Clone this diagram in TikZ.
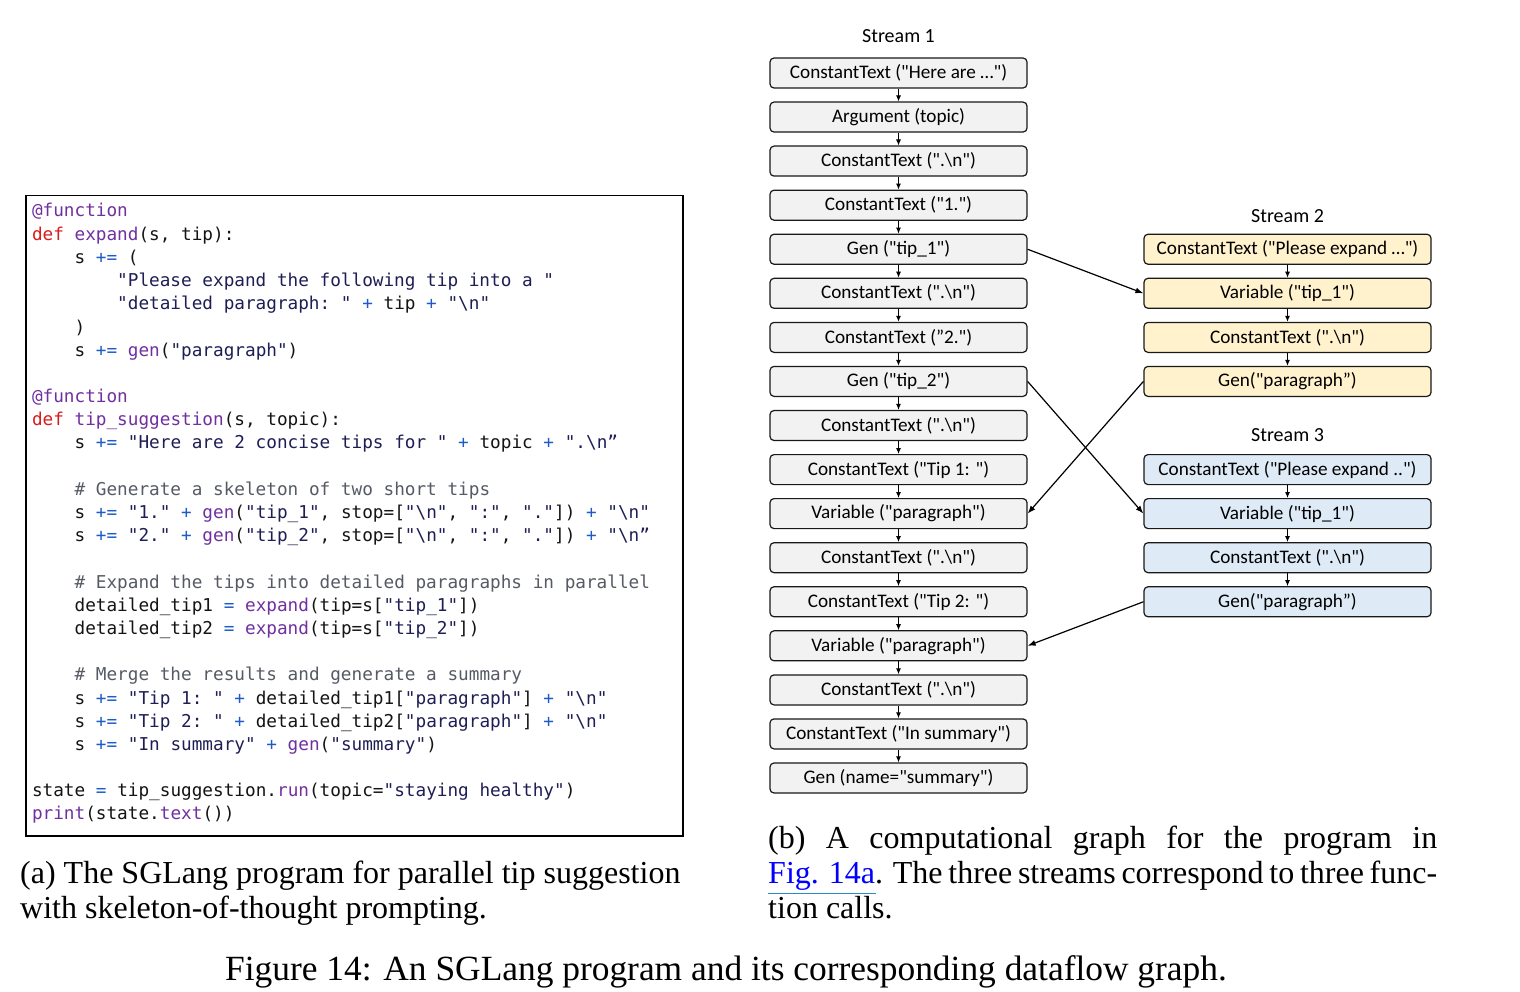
\documentclass[tikz,border=0pt]{standalone}
\usepackage{fontspec}
\usetikzlibrary{arrows.meta}
\newfontfamily\codefnt{DejaVu Sans Mono}
\newfontfamily\nodefnt{Carlito}
\newfontfamily\capfnt{Liberation Serif}
\definecolor{fnpurple}{RGB}{112,48,160}
\definecolor{kwred}{RGB}{218,28,28}
\definecolor{opblue}{RGB}{30,90,200}
\definecolor{strnavy}{RGB}{30,30,85}
\definecolor{cmgray}{RGB}{85,90,100}
\definecolor{fillA}{RGB}{242,242,242}
\definecolor{fillB}{RGB}{255,242,204}
\definecolor{fillC}{RGB}{222,235,247}
\definecolor{linkblue}{RGB}{0,0,255}
\definecolor{linkline}{RGB}{40,140,200}
\newcommand\cFn[1]{\textcolor{fnpurple}{#1}}
\newcommand\cKw[1]{\textcolor{kwred}{#1}}
\newcommand\cOp[1]{\textcolor{opblue}{#1}}
\newcommand\cSt[1]{\textcolor{strnavy}{#1}}
\newcommand\cCm[1]{\textcolor{cmgray}{#1}}
\newcommand\bs{\textbackslash{}}
\tikzset{
  codeline/.style={anchor=base west, inner sep=0pt, outer sep=0pt,
    font=\codefnt\fontsize{17.7}{20}\selectfont\frenchspacing, text=black!92},
  gnode/.style={draw=black!90, line width=1.2pt, rounded corners=4pt,
    minimum height=30pt, inner sep=0pt, font=\nodefnt\fontsize{19.2}{21}\selectfont},
  sone/.style={gnode, fill=fillA, minimum width=257pt},
  stwo/.style={gnode, fill=fillB, minimum width=287pt},
  sthree/.style={gnode, fill=fillC, minimum width=287pt},
  slabel/.style={font=\nodefnt\fontsize{20}{22}\selectfont, inner sep=0pt},
  flow/.style={-{Latex[length=6pt,width=5pt]}, line width=1pt, black},
  cross/.style={-{Latex[length=8pt,width=6pt]}, line width=1.2pt, black},
  captxt/.style={font=\capfnt\fontsize{32}{35}\selectfont, inner sep=0pt, anchor=base west},
}
\begin{document}
\begin{tikzpicture}[x=1pt,y=-1pt]
\fill[white] (0,0) rectangle (1520,992);
\useasboundingbox (0,0) rectangle (1520,992);

% ---------- code box ----------
\node[draw=black, line width=1.5pt, minimum width=657pt, minimum height=640pt,
  anchor=north west, inner sep=0pt] (codebox) at (25,195) {};

\node[codeline] (c1)  at (32,217)    {\cFn{@function}};
\node[codeline] (c2)  at (32,240.2)  {\cKw{def} \cFn{expand}(s, tip):};
\node[codeline] (c3)  at (74.6,263.4) {s \cOp{+=} (};
\node[codeline] (c4)  at (117.2,286.6) {\cSt{"Please expand the following tip into a "}};
\node[codeline] (c5)  at (117.2,309.8) {\cSt{"detailed paragraph: "} \cOp{+} tip \cOp{+} \cSt{"\bs n"}};
\node[codeline] (c6)  at (74.6,333.0) {)};
\node[codeline] (c7)  at (74.6,356.1) {s \cOp{+=} \cFn{gen}(\cSt{"paragraph"})};
\node[codeline] (c9)  at (32,402.5)  {\cFn{@function}};
\node[codeline] (c10) at (32,425.7)  {\cKw{def} \cFn{tip\_suggestion}(s, topic):};
\node[codeline] (c11) at (74.6,448.9) {s \cOp{+=} \cSt{"Here are 2 concise tips for "} \cOp{+} topic \cOp{+} \cSt{".\bs n”}};
\node[codeline] (c13) at (74.6,495.3) {\cCm{\# Generate a skeleton of two short tips}};
\node[codeline] (c14) at (74.6,518.5) {s \cOp{+=} \cSt{"1."} \cOp{+} \cFn{gen}(\cSt{"tip\_1"}, stop=[\cSt{"\bs n"}, \cSt{":"}, \cSt{"."}]) \cOp{+} \cSt{"\bs n"}};
\node[codeline] (c15) at (74.6,541.7) {s \cOp{+=} \cSt{"2."} \cOp{+} \cFn{gen}(\cSt{"tip\_2"}, stop=[\cSt{"\bs n"}, \cSt{":"}, \cSt{"."}]) \cOp{+} \cSt{"\bs n”}};
\node[codeline] (c17) at (74.6,588.0) {\cCm{\# Expand the tips into detailed paragraphs in parallel}};
\node[codeline] (c18) at (74.6,611.2) {detailed\_tip1 \cOp{=} \cFn{expand}(tip=s[\cSt{"tip\_1"}])};
\node[codeline] (c19) at (74.6,634.4) {detailed\_tip2 \cOp{=} \cFn{expand}(tip=s[\cSt{"tip\_2"}])};
\node[codeline] (c21) at (74.6,680.8) {\cCm{\# Merge the results and generate a summary}};
\node[codeline] (c22) at (74.6,704.0) {s \cOp{+=} \cSt{"Tip 1: "} \cOp{+} detailed\_tip1[\cSt{"paragraph"}] \cOp{+} \cSt{"\bs n"}};
\node[codeline] (c23) at (74.6,727.2) {s \cOp{+=} \cSt{"Tip 2: "} \cOp{+} detailed\_tip2[\cSt{"paragraph"}] \cOp{+} \cSt{"\bs n"}};
\node[codeline] (c24) at (74.6,750.4) {s \cOp{+=} \cSt{"In summary"} \cOp{+} \cFn{gen}(\cSt{"summary"})};
\node[codeline] (c26) at (32,796.8)  {state \cOp{=} tip\_suggestion.\cFn{run}(topic=\cSt{"staying healthy"})};
\node[codeline] (c27) at (32,819.9)  {\cFn{print}(state.\cFn{text}())};

% ---------- stream labels ----------
\node[slabel] (lab1) at (898.5,36) {Stream 1};
\node[slabel] (lab2) at (1287.5,216) {Stream 2};
\node[slabel] (lab3) at (1287.5,435) {Stream 3};

% ---------- stream 1 ----------
\node[sone] (s1r1)  at (898.5,73)     {ConstantText ("Here are …")};
\node[sone] (s1r2)  at (898.5,117.06) {Argument (topic)};
\node[sone] (s1r3)  at (898.5,161.1)  {ConstantText (".\bs n")};
\node[sone] (s1r4)  at (898.5,205.2)  {ConstantText ("1.")};
\node[sone] (s1r5)  at (898.5,249.25) {Gen ("tip\_1")};
\node[sone] (s1r6)  at (898.5,293.3)  {ConstantText (".\bs n")};
\node[sone] (s1r7)  at (898.5,337.4)  {ConstantText (”2.")};
\node[sone] (s1r8)  at (898.5,381.4)  {Gen ("tip\_2")};
\node[sone] (s1r9)  at (898.5,425.5)  {ConstantText (".\bs n")};
\node[sone] (s1r10) at (898.5,469.6)  {ConstantText ("Tip 1: ")};
\node[sone] (s1r11) at (898.5,513.6)  {Variable ("paragraph")};
\node[sone] (s1r12) at (898.5,557.7)  {ConstantText (".\bs n")};
\node[sone] (s1r13) at (898.5,601.75) {ConstantText ("Tip 2: ")};
\node[sone] (s1r14) at (898.5,645.8)  {Variable ("paragraph")};
\node[sone] (s1r15) at (898.5,689.9)  {ConstantText (".\bs n")};
\node[sone] (s1r16) at (898.5,733.9)  {ConstantText ("In summary")};
\node[sone] (s1r17) at (898.5,778)    {Gen (name="summary")};

\foreach \a/\b in {1/2,2/3,3/4,4/5,5/6,6/7,7/8,8/9,9/10,10/11,11/12,12/13,13/14,14/15,15/16,16/17}
  \draw[flow] (s1r\a) -- (s1r\b);

% ---------- stream 2 ----------
\node[stwo] (s2r1) at (1287.5,249.25) {ConstantText ("Please expand …")};
\node[stwo] (s2r2) at (1287.5,293.3)  {Variable ("tip\_1")};
\node[stwo] (s2r3) at (1287.5,337.4)  {ConstantText (".\bs n")};
\node[stwo] (s2r4) at (1287.5,381.4)  {Gen("paragraph”)};
\foreach \a/\b in {1/2,2/3,3/4}
  \draw[flow] (s2r\a) -- (s2r\b);

% ---------- stream 3 ----------
\node[sthree] (s3r1) at (1287.5,469.6)  {ConstantText ("Please expand ..")};
\node[sthree] (s3r2) at (1287.5,513.6)  {Variable ("tip\_1")};
\node[sthree] (s3r3) at (1287.5,557.7)  {ConstantText (".\bs n")};
\node[sthree] (s3r4) at (1287.5,601.75) {Gen("paragraph”)};
\foreach \a/\b in {1/2,2/3,3/4}
  \draw[flow] (s3r\a) -- (s3r\b);

% ---------- cross-stream edges ----------
\draw[cross] (s1r5.east) -- (s2r2.west);
\draw[cross] (s1r8.east) -- (s3r2.west);
\draw[cross] (s2r4.west) -- (s1r11.east);
\draw[cross] (s3r4.west) -- (s1r14.east);

% ---------- captions ----------
\node[captxt] (capa1) at (20,883) {(a) The SGLang program for parallel tip suggestion};
\node[captxt] (capa2) at (20,918) {with skeleton-of-thought prompting.};

\node[captxt] (capb1) at (768,848) {\makebox[669pt][s]{(b) A computational graph for the program in}};
\node[captxt] (capb2) at (768,883) {\makebox[669pt][s]{\textcolor{linkblue}{Fig. 14a}. The three streams correspond to three func-}};
\node[captxt] (capb3) at (768,918) {tion calls.};
\coordinate (ulA) at (768,893.5);
\coordinate (ulB) at (876,893.5);
\draw[linkline, line width=0.8pt] (ulA) -- (ulB);

\node[font=\capfnt\fontsize{35.4}{40}\selectfont, inner sep=0pt, anchor=base] (capmain) at (726,980)
  {Figure 14: An SGLang program and its corresponding dataflow graph.};
\end{tikzpicture}
\end{document}
